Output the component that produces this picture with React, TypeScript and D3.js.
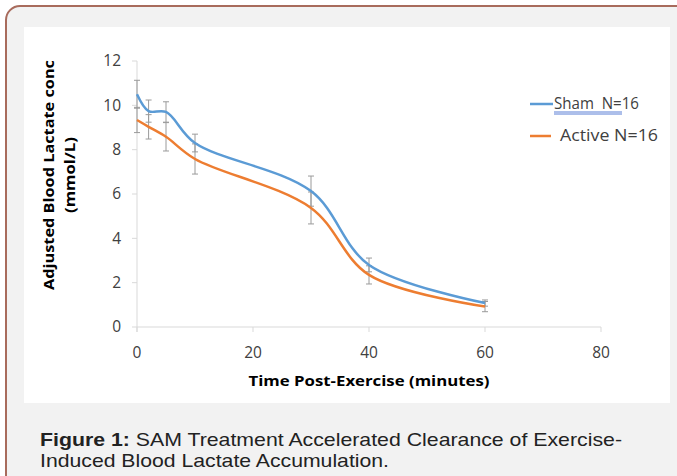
import React from "react";
import * as d3 from "d3";

const times = [0, 2, 5, 10, 30, 40, 60];
const shamValues = [10.5, 9.74, 9.7, 8.3, 6.13, 2.8, 1.08];
const shamErrors = [0.63, 0.5, 0.46, 0.4, 0.68, 0.31, 0.14];
const activeValues = [9.34, 9.03, 8.58, 7.58, 5.37, 2.35, 0.92];
const activeErrors = [0.57, 0.55, 0.64, 0.68, 0.72, 0.41, 0.23];
const xTicks = [0, 20, 40, 60, 80];
const yTicks = [0, 2, 4, 6, 8, 10, 12];
const seriesNames = ["Sham  N=16", "Active N=16"];
const seriesColors = ["#5b9bd5", "#ed7d31"];

export default function App() {
  const x = d3.scaleLinear().domain([0, 80]).range([137, 601]);
  const y = d3.scaleLinear().domain([0, 12]).range([327, 61]);
  const line = d3
    .line<number>()
    .x((_, i) => x(times[i]))
    .y((d) => y(d))
    .curve(d3.curveCatmullRom.alpha(0.5));

  const series = [
    { name: seriesNames[0], values: shamValues, errors: shamErrors, color: seriesColors[0] },
    { name: seriesNames[1], values: activeValues, errors: activeErrors, color: seriesColors[1] },
  ];
  const axisColor = "#d9d9d9";
  const labelFont = "'Open Sans', sans-serif";
  const capFont = "'Liberation Sans', Arial, sans-serif";

  return (
    <svg
      width={677}
      height={476}
      style={{ position: "absolute", left: 0, top: 0 }}
    >
      <rect x={6} y={6} width={700} height={500} rx={14} fill="#f2f2f2" stroke="#a86b5c" strokeWidth={2} />
      <rect x={24} y={27} width={646} height={376} fill="#ffffff" />

      {/* axes */}
      <line x1={x(0)} x2={x(0)} y1={y(12)} y2={y(0) + 5} stroke={axisColor} />
      <line x1={x(0)} x2={x(80)} y1={y(0)} y2={y(0)} stroke={axisColor} />
      {yTicks.map((t) => (
        <g key={"y" + t}>
          <line x1={x(0) - 5} x2={x(0)} y1={y(t)} y2={y(t)} stroke={axisColor} />
          <text x={121} y={y(t)} dy="0.35em" textAnchor="end" fontSize={15.5} fill="#404040" fontFamily={labelFont}>
            {t}
          </text>
        </g>
      ))}
      {xTicks.map((t) => (
        <g key={"x" + t}>
          <line x1={x(t)} x2={x(t)} y1={y(0)} y2={y(0) + 5} stroke={axisColor} />
          <text x={x(t)} y={358} textAnchor="middle" fontSize={15.5} fill="#404040" fontFamily={labelFont}>
            {t}
          </text>
        </g>
      ))}

      <text x={369} y={386} textAnchor="middle" fontSize={15} fontWeight="bold" fill="#000" fontFamily={labelFont} textLength={241} lengthAdjust="spacingAndGlyphs">
        Time Post-Exercise (minutes)
      </text>
      <g transform="translate(54,175) rotate(-90)">
        <text x={0} y={0} textAnchor="middle" fontSize={15} fontWeight="bold" fill="#000" fontFamily={labelFont} textLength={230} lengthAdjust="spacingAndGlyphs">
          Adjusted Blood Lactate conc
        </text>
        <text x={0} y={21} textAnchor="middle" fontSize={15} fontWeight="bold" fill="#000" fontFamily={labelFont} textLength={76} lengthAdjust="spacingAndGlyphs">
          (mmol/L)
        </text>
      </g>

      {/* error bars */}
      {series.map((s, si) => (
        <g key={"e" + si} stroke="#9a9a9a" strokeWidth={1}>
          {s.values.map((v, i) => {
            const cx = x(times[i]);
            const top = y(v + s.errors[i]);
            const bot = y(v - s.errors[i]);
            return (
              <g key={i}>
                <line x1={cx} x2={cx} y1={top} y2={bot} />
                <line x1={cx - 3} x2={cx + 3} y1={top} y2={top} />
                <line x1={cx - 3} x2={cx + 3} y1={bot} y2={bot} />
              </g>
            );
          })}
        </g>
      ))}

      {/* lines */}
      {series.map((s, si) => (
        <path key={"l" + si} d={line(s.values) || ""} fill="none" stroke={s.color} strokeWidth={2.5} />
      ))}

      {/* legend */}
      <line x1={530} x2={553} y1={104} y2={104} stroke={seriesColors[0]} strokeWidth={2.5} />
      <text x={554} y={104} dy="0.35em" fontSize={15.5} fill="#404040" fontFamily={labelFont} style={{ whiteSpace: "pre" }} textLength={85} lengthAdjust="spacingAndGlyphs">
        {seriesNames[0]}
      </text>
      <line x1={554} x2={622} y1={112} y2={112} stroke="#5b7fd5" strokeWidth={1} />
      <line x1={554} x2={622} y1={114} y2={114} stroke="#5b7fd5" strokeWidth={1} />
      <line x1={530} x2={551} y1={136} y2={136} stroke={seriesColors[1]} strokeWidth={2.5} />
      <text x={560} y={136} dy="0.35em" fontSize={15.5} fill="#404040" fontFamily={labelFont} textLength={98} lengthAdjust="spacingAndGlyphs">
        {seriesNames[1]}
      </text>

      {/* caption */}
      <text x={40} y={446} fontSize={19} fill="#222" fontFamily={capFont} textLength={582} lengthAdjust="spacingAndGlyphs">
        <tspan fontWeight="bold">Figure 1:</tspan>
        <tspan> SAM Treatment Accelerated Clearance of Exercise-</tspan>
      </text>
      <text x={40} y={467} fontSize={19} fill="#222" fontFamily={capFont} textLength={349} lengthAdjust="spacingAndGlyphs">
        Induced Blood Lactate Accumulation.
      </text>
    </svg>
  );
}
